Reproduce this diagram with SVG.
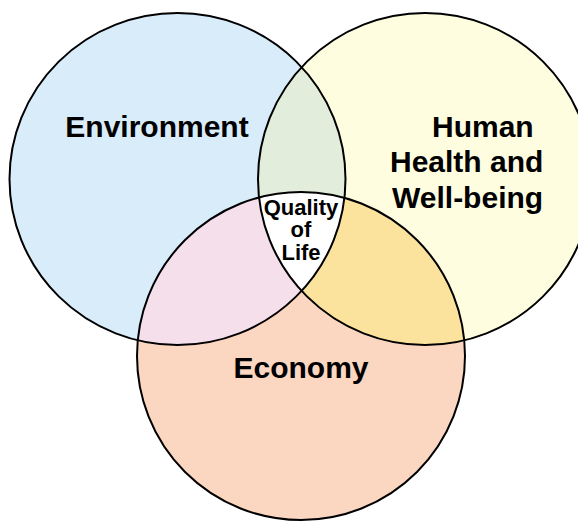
<svg xmlns="http://www.w3.org/2000/svg" width="578" height="521" viewBox="0 0 578 521">
<style>
.lbl{font-family:"Liberation Sans",Arial,sans-serif;font-weight:bold;fill:#000}
.big{font-size:30px}
.small{font-size:22px;text-anchor:middle}
.ring{fill:none;stroke:#000;stroke-width:2}
</style>
<defs>
<clipPath id="cEnv"><ellipse cx="177.5" cy="179" rx="168" ry="166"/></clipPath>
<clipPath id="cHum"><ellipse cx="425" cy="179" rx="167" ry="166"/></clipPath>
</defs>
<rect width="578" height="521" fill="#fff"/>
<g id="environment">
<ellipse cx="177.5" cy="179" rx="168" ry="166" fill="#d9ecfa"/>
</g>
<g id="human-health">
<ellipse cx="425" cy="179" rx="167" ry="166" fill="#fefde0"/>
</g>
<g id="economy">
<circle cx="301" cy="356" r="164" fill="#fbd6c1"/>
</g>
<g id="overlaps">
<ellipse cx="425" cy="179" rx="167" ry="166" fill="#e2eddc" clip-path="url(#cEnv)"/>
<circle cx="301" cy="356" r="164" fill="#f4dfea" clip-path="url(#cEnv)"/>
<circle cx="301" cy="356" r="164" fill="#fce39d" clip-path="url(#cHum)"/>
<g clip-path="url(#cEnv)"><circle cx="301" cy="356" r="164" fill="#fff" clip-path="url(#cHum)"/></g>
</g>
<g id="outlines">
<ellipse class="ring" cx="177.5" cy="179" rx="168" ry="166"/>
<ellipse class="ring" cx="425" cy="179" rx="167" ry="166"/>
<circle class="ring" cx="301" cy="356" r="164"/>
</g>
<g id="labels">
<text class="lbl big" x="157" y="137" text-anchor="middle">Environment</text>
<text class="lbl big" x="432" y="137">Human</text>
<text class="lbl big" x="390" y="172">Health and</text>
<text class="lbl big" x="392" y="208">Well-being</text>
<text class="lbl big" x="301" y="378" text-anchor="middle">Economy</text>
<text class="lbl small" x="301" y="215">Quality</text>
<text class="lbl small" x="301" y="237">of</text>
<text class="lbl small" x="301" y="260">Life</text>
</g>
</svg>
